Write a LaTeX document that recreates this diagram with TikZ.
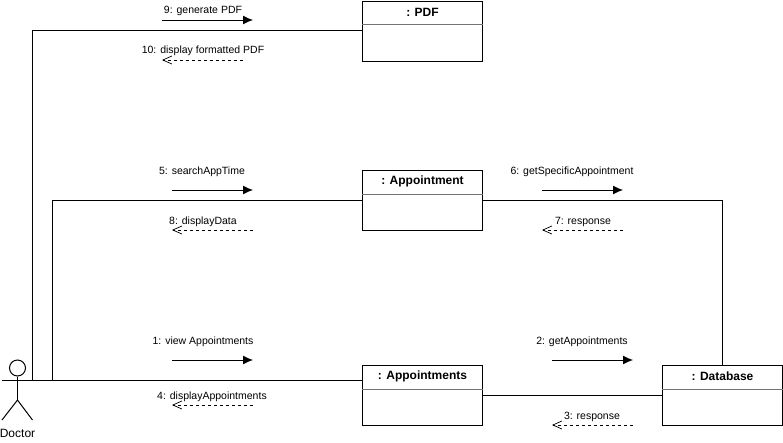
\documentclass[tikz,border=0pt]{standalone}
\usepackage{fontspec}
\setmainfont{Liberation Sans}
\usetikzlibrary{arrows.meta}
\tikzset{
  x=1pt,y=-1pt,
  line/.style={draw=black,line width=1pt},
  objbox/.style={draw=black,line width=1pt,fill=white,minimum width=120pt,minimum height=60pt,inner sep=0pt,anchor=north west},
  title/.style={font=\fontsize{12}{14}\selectfont\bfseries,inner sep=0pt,anchor=center},
  msg/.style={font=\fontsize{10.5}{12}\selectfont,inner sep=0pt,anchor=center},
  call/.style={draw=black,line width=1pt,-{Latex[length=10pt,width=9pt]}},
  reply/.style={draw=black,line width=0.7pt,dash pattern=on 3pt off 3pt,-{Straight Barb[length=9pt,width=8pt,line width=0.7pt]}},
}
\newcommand{\objectbox}[4]{%
  \node[objbox] (#1) at (#2,#3) {};
  \draw[draw=black!55,line width=0.8pt] ([yshift=-24pt]#1.north west) -- ([yshift=-24pt]#1.north east);
  \node[title] at ([yshift=-11.5pt]#1.north) {#4};
}
\begin{document}
\begin{tikzpicture}
\useasboundingbox (0,0) rectangle (783,442);
\fill[white] (0,0) rectangle (783,442);
% objects
\objectbox{pdf}{362}{0.5}{: PDF}
\objectbox{appt}{362}{170}{: Appointment}
\objectbox{appts}{362}{365}{: Appointments}
\objectbox{db}{662}{365}{: Database}
% actor
\node[draw=black,line width=1pt,circle,minimum size=16pt,inner sep=0pt] (head) at (17.5,368) {};
\coordinate (hip) at (17.5,400);
\coordinate (armL) at (2,380);
\coordinate (legL) at (2,420);
\coordinate (legR) at (32.5,420);
\coordinate (armJoin) at (32.5,380);
\coordinate (armJoinB) at (52,380);
\draw[line] (head.south) -- (hip);
\draw[line] (legL) -- (hip) -- (legR);
\node[font=\fontsize{12}{14}\selectfont,inner sep=0pt] (doctor) at (17.5,433.5) {Doctor};
% connectors
\draw[line] (armL) -- (appts.west |- armL);
\draw[line] (armJoin) |- (pdf.west |- 0,30);
\draw[line] (armJoinB) |- (appt.west);
\draw[line] (appt.east) -| (db.north);
\draw[line] (appts.east) -- (db.west);
% message arrows
\coordinate (a9s) at (162,20);  \coordinate (a9e) at (253,20);
\coordinate (a10s) at (243,60); \coordinate (a10e) at (162,60);
\coordinate (a5s) at (172,190); \coordinate (a5e) at (253,190);
\coordinate (a8s) at (253,230); \coordinate (a8e) at (172,230);
\coordinate (a6s) at (542,190); \coordinate (a6e) at (623,190);
\coordinate (a7s) at (623,230); \coordinate (a7e) at (542,230);
\coordinate (a1s) at (172,360); \coordinate (a1e) at (253,360);
\coordinate (a4s) at (253,405); \coordinate (a4e) at (172,405);
\coordinate (a2s) at (552,360); \coordinate (a2e) at (633,360);
\coordinate (a3s) at (633,425); \coordinate (a3e) at (552,425);
\draw[call] (a9s) -- (a9e);
\draw[reply] (a10s) -- (a10e);
\draw[call] (a5s) -- (a5e);
\draw[reply] (a8s) -- (a8e);
\draw[call] (a6s) -- (a6e);
\draw[reply] (a7s) -- (a7e);
\draw[call] (a1s) -- (a1e);
\draw[reply] (a4s) -- (a4e);
\draw[call] (a2s) -- (a2e);
\draw[reply] (a3s) -- (a3e);
% labels
\node[msg] (l9) at (203,10.5) {9: generate PDF};
\node[msg] (l10) at (203,51) {10: display formatted PDF};
\node[msg] (l5) at (202,171.5) {5: searchAppTime};
\node[msg] (l8) at (203,221.5) {8: displayData};
\node[msg] (l6) at (572,171.5) {6: getSpecificAppointment};
\node[msg] (l7) at (583,221.5) {7: response};
\node[msg] (l1) at (203,341.5) {1: view Appointments};
\node[msg] (l4) at (212,396.5) {4: displayAppointments};
\node[msg] (l2) at (582,341.5) {2: getAppointments};
\node[msg] (l3) at (592,416.5) {3: response};
\end{tikzpicture}
\end{document}
